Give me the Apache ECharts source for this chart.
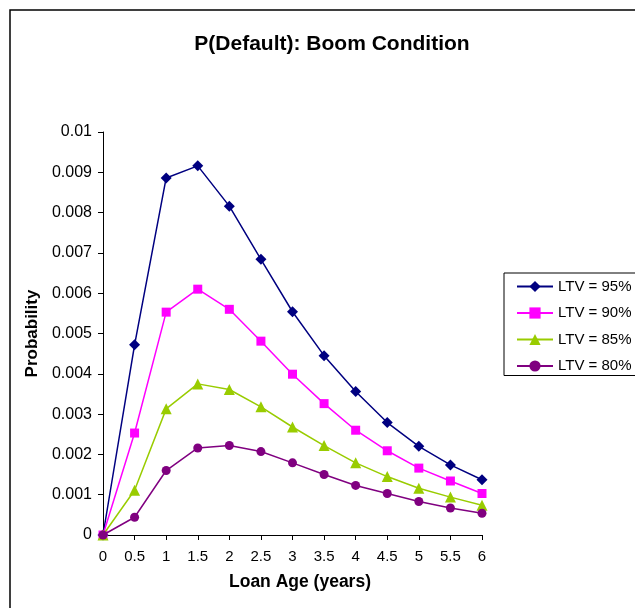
<!DOCTYPE html>
<html>
<head>
<meta charset="utf-8">
<script src="https://cdn.jsdelivr.net/npm/echarts@6/dist/echarts.min.js"></script>
<style>
html,body{margin:0;padding:0;background:#fff;}
#chart{width:635px;height:608px;}
</style>
</head>
<body>
<div id="chart"></div>
<script>
var loanAge = [0, 0.5, 1, 1.5, 2, 2.5, 3, 3.5, 4, 4.5, 5, 5.5, 6];
var ltv95 = [0, 0.00472, 0.00886, 0.00916, 0.00816, 0.00684, 0.00554, 0.00445, 0.00356, 0.00279, 0.00220, 0.00174, 0.00137];
var ltv90 = [0, 0.00253, 0.00553, 0.00610, 0.00560, 0.00481, 0.00399, 0.00326, 0.00260, 0.00209, 0.00166, 0.00134, 0.00103];
var ltv85 = [0, 0.00111, 0.00313, 0.00375, 0.00361, 0.00318, 0.00268, 0.00222, 0.00179, 0.00145, 0.00116, 0.00094, 0.00074];
var ltv80 = [0, 0.00044, 0.00160, 0.00216, 0.00222, 0.00207, 0.00179, 0.00150, 0.00123, 0.00103, 0.00083, 0.00067, 0.00054];
var seriesNames = ['LTV = 95%', 'LTV = 90%', 'LTV = 85%', 'LTV = 80%'];
var yTickLabels = ['0', '0.001', '0.002', '0.003', '0.004', '0.005', '0.006', '0.007', '0.008', '0.009', '0.01'];
var xTickLabels = ['0', '0.5', '1', '1.5', '2', '2.5', '3', '3.5', '4', '4.5', '5', '5.5', '6'];

function pairs(vals) { return loanAge.map(function (x, i) { return [x, vals[i]]; }); }

var styles = [
  { color: '#000080', symbol: 'diamond', size: 11 },
  { color: '#FF00FF', symbol: 'rect', size: 9 },
  { color: '#99CC00', symbol: 'triangle', size: 11 },
  { color: '#800080', symbol: 'circle', size: 9 }
];
var allData = [ltv95, ltv90, ltv85, ltv80];

var chart = echarts.init(document.getElementById('chart'), null, { renderer: 'canvas' });
var font = '"Liberation Sans", Arial, sans-serif';
chart.setOption({
  animation: false,
  backgroundColor: '#fff',
  textStyle: { fontFamily: font },
  title: {
    text: 'P(Default): Boom Condition',
    left: 327, top: 29, textAlign: 'center',
    textStyle: { fontFamily: font, fontSize: 21, fontWeight: 'bold', color: '#000' }
  },
  graphic: [{
    type: 'rect', shape: { x: 10, y: 10, width: 800, height: 800 },
    style: { fill: 'none', stroke: '#000', lineWidth: 1.5 }, silent: true, z: -1
  }],
  legend: {
    orient: 'vertical', left: 504, top: 273,
    padding: [6, 30, 2, 12],
    itemWidth: 36, itemHeight: 14, itemGap: 11.5,
    borderColor: '#000', borderWidth: 1,
    textStyle: { fontFamily: font, fontSize: 15, color: '#000', padding: [0, 0, 0, 0] },
    data: seriesNames
  },
  grid: { left: 103, right: 153, top: 132, bottom: 73, containLabel: false },
  xAxis: {
    type: 'value', min: 0, max: 6, interval: 0.5,
    name: 'Loan Age (years)', nameLocation: 'middle', nameGap: 38,
    nameTextStyle: { fontFamily: font, fontSize: 17.5, fontWeight: 'bold', color: '#000', padding: [0, 0, 0, 15] },
    axisLine: { lineStyle: { color: '#000', width: 1 } },
    axisTick: { show: true, length: 5, inside: false, lineStyle: { color: '#000' } },
    axisLabel: { margin: 14, fontSize: 15, color: '#000', fontFamily: font,
      formatter: function (v) { return xTickLabels[Math.round(v * 2)]; } },
    splitLine: { show: false }
  },
  yAxis: {
    type: 'value', min: 0, max: 0.01, interval: 0.001,
    name: 'Probability', nameLocation: 'middle', nameGap: 60, nameRotate: 90,
    nameTextStyle: { fontFamily: font, fontSize: 17, fontWeight: 'bold', color: '#000', padding: [0, 0, 0, 0] },
    axisLine: { show: true, lineStyle: { color: '#000', width: 1 } },
    axisTick: { show: true, length: 5, inside: false, lineStyle: { color: '#000' } },
    axisLabel: { margin: 11, fontSize: 16, color: '#000', fontFamily: font,
      formatter: function (v) { return yTickLabels[Math.round(v * 1000)]; } },
    splitLine: { show: false }
  },
  series: allData.map(function (d, i) {
    return {
      name: seriesNames[i], type: 'line', data: pairs(d),
      symbol: styles[i].symbol, symbolSize: styles[i].size,
      showAllSymbol: true,
      itemStyle: { color: styles[i].color },
      lineStyle: { color: styles[i].color, width: 1.5 },
      z: 2 + i
    };
  })
});
</script>
</body>
</html>
